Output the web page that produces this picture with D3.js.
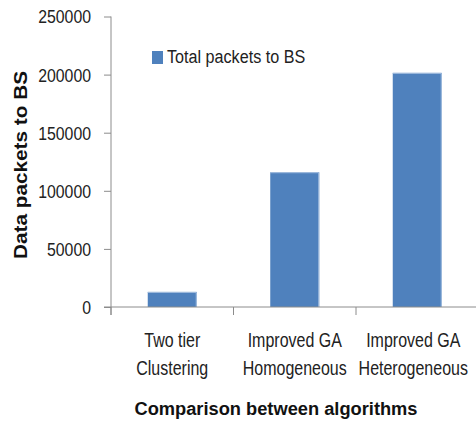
<!DOCTYPE html>
<html><head><meta charset="utf-8">
<script src="https://cdn.jsdelivr.net/npm/d3@7"></script>
<style>body{margin:0;background:#fff}svg{display:block}</style>
</head><body>
<script>
const categories = [["Two tier","Clustering"],["Improved GA","Homogeneous"],["Improved GA","Heterogeneous"]];
const values = [13000, 116000, 201500];
const yTicks = [0, 50000, 100000, 150000, 200000, 250000];
const seriesName = "Total packets to BS";
const yTitle = "Data packets to BS";
const xTitle = "Comparison between algorithms";

const W = 476, H = 421;
const svg = d3.select("body").append("svg").attr("width", W).attr("height", H);
const font = "'Liberation Sans', Arial, sans-serif";
const axisColor = "#8c8c8c";

const keys = categories.map(c => c.join(" "));
const x = d3.scaleBand().domain(keys).range([111, 478.5]).paddingInner(0.6).paddingOuter(0.3);
const y = d3.scaleLinear().domain([0, 250000]).range([307, 16.5]);

// y axis
const yAxis = svg.append("g").attr("transform", "translate(111,0)")
  .call(d3.axisLeft(y).tickValues(yTicks).tickSize(7).tickPadding(0).tickFormat(d3.format("d")));
yAxis.select(".domain").attr("stroke", axisColor).attr("d", `M0,${y(250000)}V${y(0)+8}`);
yAxis.selectAll(".tick line").attr("stroke", axisColor);
yAxis.selectAll("text").attr("x", null).attr("transform", "translate(-20,0) scale(0.88,1)")
  .attr("font-family", font).attr("font-size", 18).attr("fill", "#222").attr("dy", "0.36em");

// bars
svg.append("g").selectAll("rect").data(values).join("rect")
  .attr("x", (d, i) => x(keys[i]))
  .attr("y", d => y(d))
  .attr("width", x.bandwidth())
  .attr("height", d => y(0) - y(d))
  .attr("fill", "#4f81bd");
svg.append("g").selectAll("path").data(values).join("path")
  .attr("d", (d, i) => `M${x(keys[i])},${y(d)+0.5}H${x(keys[i]) + x.bandwidth() - 0.5}V${y(0)}`)
  .attr("fill", "none").attr("stroke", "#a7c0e0").attr("stroke-width", 1);

// x axis
const xg = svg.append("g");
xg.append("line").attr("x1", 104).attr("x2", W).attr("y1", y(0)).attr("y2", y(0)).attr("stroke", axisColor);
const step = x.step();
const bounds = keys.map((k, i) => x(k) - step * x.paddingInner() / 2).concat([x(keys[2]) + x.bandwidth() + step * x.paddingInner() / 2]);
xg.selectAll("line.tk").data(bounds).join("line").attr("class", "tk")
  .attr("x1", d => d).attr("x2", d => d).attr("y1", y(0)).attr("y2", y(0) + 8).attr("stroke", axisColor);
const lab = xg.selectAll("text").data(categories).join("text")
  .attr("transform", (d, i) => `translate(${x(keys[i]) + x.bandwidth() / 2 - (i === 2 ? 4 : 0)},0) scale(0.78,1)`)
  .attr("font-family", font).attr("font-size", 20.5).attr("fill", "#222").attr("text-anchor", "middle");
lab.selectAll("tspan").data(d => d).join("tspan")
  .attr("x", 0)
  .attr("y", (d, j) => 347 + j * 28)
  .text(d => d);

// titles
svg.append("text").attr("x", 276).attr("y", 415).attr("text-anchor", "middle")
  .attr("font-family", font).attr("font-weight", "bold").attr("font-size", 18).attr("fill", "#111")
  .attr("textLength", 283).attr("lengthAdjust", "spacingAndGlyphs").text(xTitle);
svg.append("text").attr("transform", "translate(27,165) rotate(-90)").attr("text-anchor", "middle")
  .attr("font-family", font).attr("font-weight", "bold").attr("font-size", 17.5).attr("fill", "#111")
  .attr("textLength", 188).attr("lengthAdjust", "spacingAndGlyphs").text(yTitle);

// legend
const lg = svg.append("g");
lg.append("rect").attr("x", 152).attr("y", 51).attr("width", 11).attr("height", 13).attr("fill", "#4f81bd");
lg.append("text").attr("transform", "translate(167,0) scale(0.85,1)").attr("x", 0).attr("y", 63)
  .attr("font-family", font).attr("font-size", 19).attr("fill", "#222").text(seriesName);
</script>
</body></html>
